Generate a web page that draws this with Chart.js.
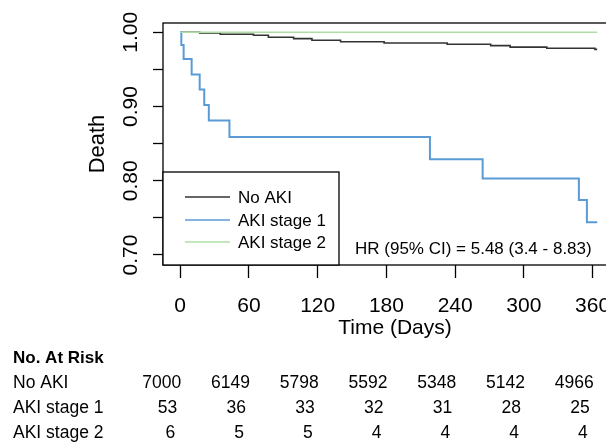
<!DOCTYPE html>
<html>
<head>
<meta charset="utf-8">
<title>KM curves by AKI stage</title>
<script src="https://cdn.jsdelivr.net/npm/chart.js@4.4.0/dist/chart.umd.min.js"></script>
<style>
  html, body { margin: 0; padding: 0; background: #fff; overflow: hidden; }
  #wrap { width: 640px; height: 443px; }
</style>
</head>
<body>
<div id="wrap"><canvas id="km" width="640" height="443"></canvas></div>
<script>
// Kaplan-Meier steps (day, survival)
const noAkiDays = [0, 17, 35, 64, 77, 99, 115, 140, 178, 233, 271, 288, 320, 362, 364];
const noAkiSurv = [1, 0.9992, 0.9973, 0.996, 0.9933, 0.9914, 0.9892, 0.9873, 0.9856, 0.9838, 0.982, 0.980, 0.9784, 0.977, 0.977];
const aki1Days = [0, 1, 3, 10, 17, 21, 25, 43, 218, 264, 348, 355, 364];
const aki1Surv = [1, 0.983, 0.964, 0.943, 0.923, 0.902, 0.881, 0.859, 0.829, 0.803, 0.774, 0.744, 0.744];
const aki2Days = [0, 364];
const aki2Surv = [1, 1];

const groupNames = ['No AKI', 'AKI stage 1', 'AKI stage 2'];
const groupColors = ['#333333', '#5b9bd5', '#addfa5'];

const yLabelValues = [0.70, 0.80, 0.90, 1.00];

// number at risk table
const riskDays = [0, 60, 120, 180, 240, 300, 360];
const riskNoAki = [7000, 6149, 5798, 5592, 5348, 5142, 4966];
const riskAki1 = [53, 36, 33, 32, 31, 28, 25];
const riskAki2 = [6, 5, 5, 4, 4, 4, 4];

const hrText = 'HR (95% CI) = 5.48 (3.4 - 8.83)';

const FONT = '"Liberation Sans", Arial, sans-serif';

function toPoints(days, surv) {
    return days.map((d, i) => ({ x: d, y: surv[i] }));
}

// extra drawing: frame, rotated y labels, legend, HR text, risk table
const kmExtras = {
    id: 'kmExtras',
    afterDraw(chart) {
        const ctx = chart.ctx;
        const area = chart.chartArea;
        const xs = chart.scales.x;
        const ys = chart.scales.y;

        ctx.save();
        // plot frame
        ctx.strokeStyle = '#000';
        ctx.lineWidth = 1.3;
        ctx.strokeRect(area.left, area.top, area.right - area.left, area.bottom - area.top);

        // y tick labels, rotated like R's default
        ctx.fillStyle = '#000';
        ctx.font = '21px ' + FONT;
        ctx.textAlign = 'center';
        ctx.textBaseline = 'middle';
        yLabelValues.forEach(v => {
            ctx.save();
            ctx.translate(131, ys.getPixelForValue(v));
            ctx.rotate(-Math.PI / 2);
            ctx.fillText(v.toFixed(2), 0, 0);
            ctx.restore();
        });

        // legend box
        const lgLeft = area.left, lgTop = 172, lgRight = 339, lgBottom = area.bottom;
        ctx.fillStyle = '#fff';
        ctx.fillRect(lgLeft, lgTop, lgRight - lgLeft, lgBottom - lgTop);
        ctx.strokeStyle = '#000';
        ctx.lineWidth = 1.3;
        ctx.strokeRect(lgLeft, lgTop, lgRight - lgLeft, lgBottom - lgTop);
        ctx.font = '17px ' + FONT;
        ctx.textAlign = 'left';
        ctx.textBaseline = 'middle';
        const rowY = [197, 220, 242];
        chart.data.datasets.forEach((ds, i) => {
            ctx.strokeStyle = ds.borderColor;
            ctx.lineWidth = 1.6;
            ctx.beginPath();
            ctx.moveTo(185, rowY[i]);
            ctx.lineTo(230, rowY[i]);
            ctx.stroke();
            ctx.fillStyle = '#000';
            ctx.fillText(ds.label, 238, rowY[i] + 1);
        });

        // hazard ratio
        ctx.fillText(hrText, 355, 249);

        // number at risk
        ctx.font = 'bold 17px ' + FONT;
        ctx.fillText('No. At Risk', 13, 358);
        ctx.font = '17.5px ' + FONT;
        const rows = [riskNoAki, riskAki1, riskAki2];
        const rowTops = [383, 408, 433];
        const rowShift = [1, -3, -5];
        rows.forEach((vals, r) => {
            ctx.textAlign = 'left';
            ctx.fillText(groupNames[r], 13, rowTops[r]);
            ctx.textAlign = 'right';
            vals.forEach((v, c) => {
                ctx.fillText(String(v), xs.getPixelForValue(riskDays[c]) + rowShift[r], rowTops[r]);
            });
        });
        ctx.restore();
    }
};

document.addEventListener('DOMContentLoaded', function() {
    const canvas = document.getElementById('km');
    new Chart(canvas, {
        type: 'line',
        data: {
            datasets: [
                {
                    label: groupNames[0],
                    data: toPoints(noAkiDays, noAkiSurv),
                    borderColor: groupColors[0],
                    borderWidth: 1.6,
                    order: 2
                },
                {
                    label: groupNames[1],
                    data: toPoints(aki1Days, aki1Surv),
                    borderColor: groupColors[1],
                    borderWidth: 2,
                    order: 1
                },
                {
                    label: groupNames[2],
                    data: toPoints(aki2Days, aki2Surv),
                    borderColor: groupColors[2],
                    borderWidth: 1.6,
                    order: 0
                }
            ]
        },
        options: {
            responsive: false,
            animation: false,
            devicePixelRatio: 1,
            layout: {
                padding: { left: 0, top: 23, right: 13, bottom: 103 }
            },
            elements: {
                line: { stepped: true, fill: false, tension: 0 },
                point: { radius: 0, hoverRadius: 0 }
            },
            plugins: {
                legend: { display: false },
                tooltip: { enabled: false }
            },
            scales: {
                x: {
                    type: 'linear',
                    min: -15,
                    max: 390,
                    afterFit: scale => { scale.height = 75; },
                    border: { display: false },
                    grid: {
                        drawOnChartArea: false,
                        drawTicks: true,
                        tickLength: 13,
                        tickWidth: 1.3,
                        tickColor: '#000'
                    },
                    ticks: {
                        stepSize: 60,
                        includeBounds: false,
                        maxRotation: 0,
                        autoSkip: false,
                        padding: 16,
                        color: '#000',
                        font: { family: FONT, size: 21 }
                    },
                    title: {
                        display: true,
                        text: 'Time (Days)',
                        color: '#000',
                        padding: { top: 0, bottom: -1 },
                        font: { family: FONT, size: 21 }
                    }
                },
                y: {
                    type: 'linear',
                    min: 0.6865,
                    max: 1.0125,
                    afterFit: scale => { scale.width = 163; },
                    border: { display: false },
                    grid: {
                        drawOnChartArea: false,
                        drawTicks: true,
                        tickLength: 10,
                        tickWidth: 1.3,
                        tickColor: '#000'
                    },
                    ticks: {
                        display: false,
                        stepSize: 0.05,
                        includeBounds: false
                    },
                    title: {
                        display: true,
                        text: 'Death',
                        color: '#000',
                        padding: { top: 85, bottom: 0 },
                        font: { family: FONT, size: 22 }
                    }
                }
            }
        },
        plugins: [kmExtras]
    });
});
</script>
</body>
</html>
